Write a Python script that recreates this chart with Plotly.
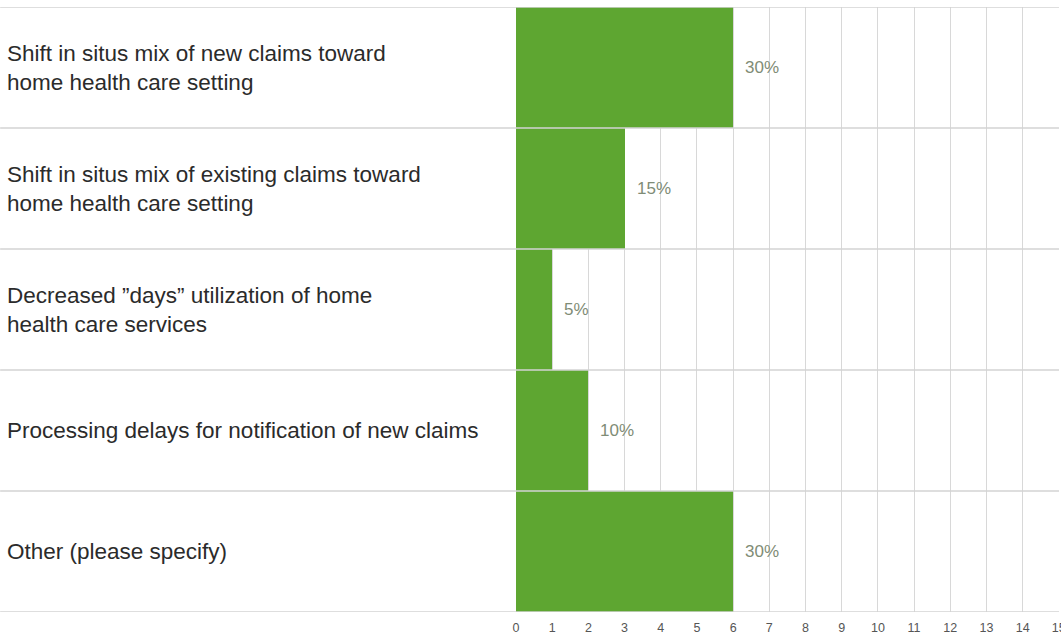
import plotly.graph_objects as go

categories = [
    "Shift in situs mix of new claims toward<br>home health care setting",
    "Shift in situs mix of existing claims toward<br>home health care setting",
    "Decreased \u201ddays\u201d utilization of home<br>health care services",
    "Processing delays for notification of new claims",
    "Other (please specify)",
]
counts = [6, 3, 1, 2, 6]
percent_labels = ["30%", "15%", "5%", "10%", "30%"]
x_ticks = list(range(0, 16))

fig = go.Figure()
fig.add_trace(go.Bar(
    y=list(range(len(categories))),
    x=counts,
    orientation="h",
    marker=dict(color="#5ea631", line=dict(width=0)),
    width=1.0,
    hoverinfo="skip",
))

for i, (c, v, p) in enumerate(zip(categories, counts, percent_labels)):
    fig.add_annotation(x=v, y=i, xref="x", yref="y", text=p, showarrow=False,
                       xanchor="left", xshift=10,
                       font=dict(family="Liberation Sans, Arial", size=17, color="#7f8c76"))
    fig.add_annotation(x=0, y=i, xref="paper", yref="y", text=c, showarrow=False,
                       xanchor="left", xshift=-511, align="left",
                       font=dict(family="Liberation Sans, Arial", size=22.5, color="#2b2b2b"))

# row separators spanning labels and plot
for b in [k - 0.5 for k in range(len(categories) + 1)]:
    fig.add_shape(type="line", xref="paper", yref="y", x0=-0.95, x1=1.0, y0=b, y1=b,
                  line=dict(color="#d3d3d3", width=1.5), layer="above")

fig.update_layout(
    width=1061, height=637,
    margin=dict(l=516, r=2, t=7, b=25, autoexpand=False),
    plot_bgcolor="white", paper_bgcolor="white",
    showlegend=False,
    bargap=0,
    xaxis=dict(range=[0, 15.005], tickvals=x_ticks, showgrid=True, gridcolor="#d8d8d8",
               gridwidth=1, zeroline=False, showline=False, ticks="",
               automargin=False,
               ticklabelstandoff=6, ticklabeloverflow="allow",
               tickfont=dict(family="Liberation Sans, Arial", size=12.5, color="#555555")),
    yaxis=dict(range=[4.5, -0.5], showticklabels=False, showgrid=False, zeroline=False,
               showline=False, automargin=False),
)

fig.write_html("out.html", config={"displayModeBar": False},
               post_script="document.body.style.margin='0';")
